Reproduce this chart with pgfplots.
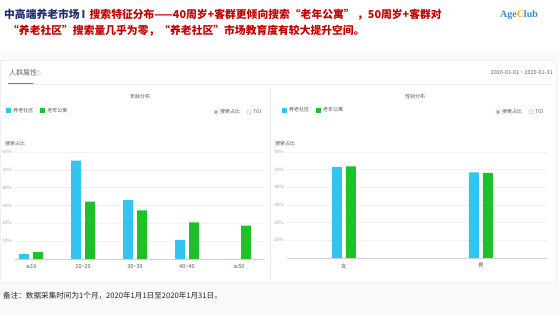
\documentclass[border=0pt]{standalone}
\usepackage{fontspec}
\setmainfont{Noto Sans CJK SC}
\newfontfamily\sym{DejaVu Sans}
\newfontfamily\logofont{Liberation Serif}
\usepackage{pgfplots}
\pgfplotsset{compat=1.18}
\definecolor{cblue}{HTML}{33C4F2}
\definecolor{cgreen}{HTML}{1FC12B}
\definecolor{tred}{HTML}{C00000}
\definecolor{tnavy}{HTML}{1F2D6B}
\definecolor{lblue}{HTML}{3A8CC8}
\definecolor{lgold}{HTML}{F2B300}
\definecolor{txt}{HTML}{555555}
\pgfplotsset{
  panel/.style={
    scale only axis, anchor=south west,
    ymin=0, ymax=60, ytick={10,20,...,60},
    ybar=4pt, bar width=10pt,
    axis x line=bottom, axis y line=left,
    y axis line style={draw=none},
    x axis line style={draw=gray!35,-},
    tick style={draw=none},
    ymajorgrids, major grid style={draw=gray!12},
    /pgf/number format/assume math mode=true,
    yticklabel={\pgfmathprintnumber{\tick}\%},
    yticklabel style={font=\fontsize{4.5}{5}\selectfont, text=gray!75, inner sep=1pt},
    xticklabel style={font=\fontsize{5.5}{6}\selectfont, text=txt},
    xtick=data,
    legend columns=2,
    legend style={draw=none, fill=none, font=\fontsize{5}{6}\selectfont, text=txt,
      inner sep=0pt, anchor=west,
      /tikz/every even column/.append style={column sep=5pt}},
    legend image code/.code={\fill[##1] (0pt,-2.5pt) rectangle (5pt,2.5pt);},
  }
}
\begin{document}
\begin{tikzpicture}
\path[use as bounding box] (0pt,0pt) rectangle (560pt,-315pt);
\fill[white] (0pt,0pt) rectangle (560pt,-315pt);
\fill[gray!5] (0pt,-282pt) rectangle (560pt,-315pt);
\fill[gray!3] (0pt,-50pt) rectangle (560pt,-60pt);
\draw[gray!12] (0pt,-60pt) rectangle (556pt,-282pt);
% title
\node[anchor=west, inner sep=0pt, font=\bfseries\fontsize{10.8}{12}\selectfont] at (4pt,-15pt)
  {\color{tnavy}中高端养老市场\,I\, \color{tred}搜索特征分布——40周岁+客群更倾向搜索“老年公寓” ，50周岁+客群对};
\node[anchor=west, inner sep=0pt, font=\bfseries\fontsize{10.8}{12}\selectfont, text=tred] at (8pt,-31pt)
  {“养老社区”搜索量几乎为零，“养老社区”市场教育度有较大提升空间。};
\node[anchor=center, inner sep=0pt, font=\logofont\bfseries\fontsize{10}{12}\selectfont] at (519pt,-15pt)
  {\color{lblue}Age\color{lgold}C\color{lblue}lub};
% card header
\node[anchor=west, inner sep=0pt, font=\fontsize{7}{8}\selectfont, text=gray!80!black] at (9pt,-73pt) {人群属性};
\draw[gray!40, line width=0.5pt] (38.5pt,-73pt) circle (2pt);
\draw[gray!12] (8pt,-84.5pt) -- (553pt,-84.5pt);
\draw[lblue, line width=1pt] (8pt,-84pt) -- (33pt,-84pt);
\node[anchor=east, inner sep=0pt, font=\fontsize{5.5}{6}\selectfont, text=gray!80!black] at (553pt,-73pt) {2020-01-01 \textasciitilde{} 2020-01-31};
\draw[gray!15] (270pt,-88pt) -- (270pt,-280pt);
% subtitles
\node[inner sep=0pt, font=\fontsize{5}{6}\selectfont, text=txt] at (140pt,-97pt) {年龄分布};
\node[inner sep=0pt, font=\fontsize{5}{6}\selectfont, text=txt] at (415pt,-97pt) {性别分布};
% radio buttons
\foreach \rx in {216,498}{
  \draw[gray!60, line width=0.4pt] (\rx pt,-112pt) circle (2.2pt);
  \fill[gray!80!black] (\rx pt,-112pt) circle (1.1pt);
  \node[anchor=west, inner sep=0pt, font=\fontsize{5}{6}\selectfont, text=txt] at (\rx pt+4pt,-112pt) {搜索占比};
  \draw[gray!60, line width=0.4pt] (\rx pt+33pt,-112pt) circle (2.2pt);
  \node[anchor=west, inner sep=0pt, font=\fontsize{5}{6}\selectfont, text=txt] at (\rx pt+37pt,-112pt) {TGI};
}
\node[anchor=west, inner sep=0pt, font=\fontsize{5}{6}\selectfont, text=gray!70!black] at (5pt,-144pt) {搜索占比};
\node[anchor=west, inner sep=0pt, font=\fontsize{5}{6}\selectfont, text=gray!70!black] at (275pt,-144pt) {搜索占比};
% left chart
\begin{axis}[panel, at={(15pt,-259pt)}, width=250pt, height=107pt,
  xmin=-0.31, xmax=4.5,
  xticklabels={{{\sym≤}19},{20\textasciitilde29},{30\textasciitilde39},{40\textasciitilde49},{{\sym≥}50}},
  legend style={at={(-0.035,1.385)}}]
\addplot[fill=cblue, draw=none] coordinates {(0,2.8) (1,55.2) (2,33.0) (3,10.7) (4,0)};
\addplot[fill=cgreen, draw=none] coordinates {(0,3.8) (1,32.2) (2,27.3) (3,20.6) (4,18.7)};
\legend{养老社区,老年公寓}
\end{axis}
% right chart
\begin{axis}[panel, at={(287pt,-258pt)}, width=260pt, height=106pt,
  xmin=-0.416, xmax=1.482,
  xticklabels={女,男},
  legend style={at={(-0.02,1.395)}}]
\addplot[fill=cblue, draw=none] coordinates {(0,51.5) (1,48.5)};
\addplot[fill=cgreen, draw=none] coordinates {(0,51.8) (1,48.2)};
\legend{养老社区,老年公寓}
\end{axis}
% footer
\node[anchor=west, inner sep=0pt, font=\fontsize{7.6}{8}\selectfont, text=black!85] at (3pt,-296pt)
  {备注：数据采集时间为1个月，2020年1月1日至2020年1月31日。};
\end{tikzpicture}
\end{document}
